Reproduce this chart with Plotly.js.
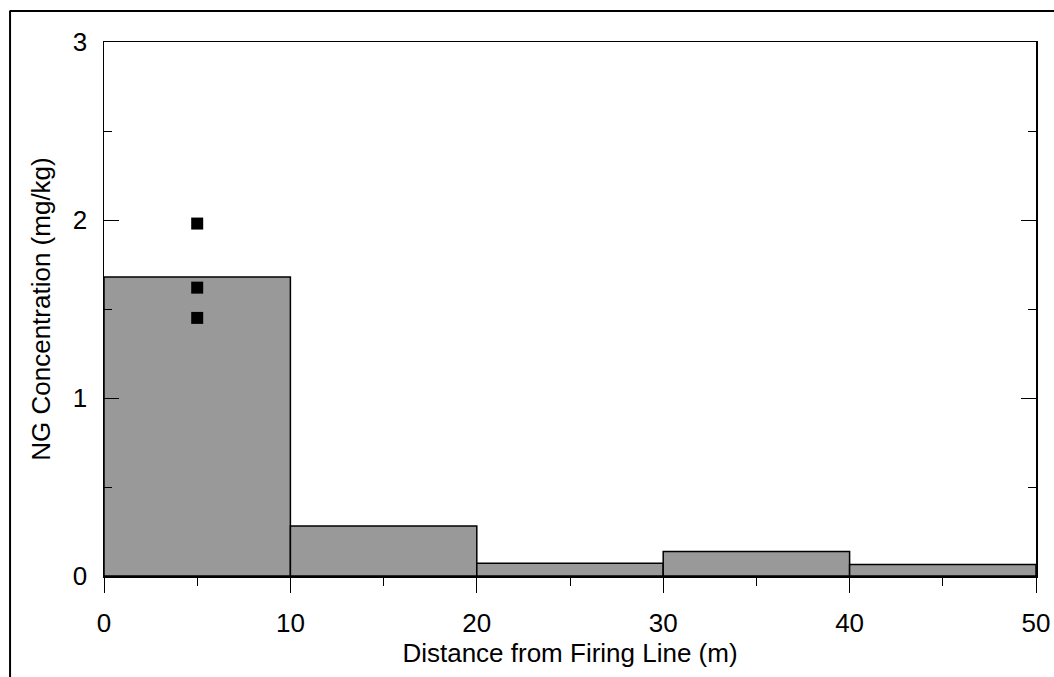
<!DOCTYPE html>
<html>
<head>
<meta charset="utf-8">
<script src="https://cdn.plot.ly/plotly-3.0.1.min.js"></script>
<style>
html,body{margin:0;padding:0;background:#fff;}
#chart{width:1054px;height:677px;}
</style>
</head>
<body>
<div id="chart"></div>
<script>
// Data
const binCenters = [5, 15, 25, 35, 45];
const binMeans = [1.68, 0.281, 0.071, 0.137, 0.064];
const sampleX = [5, 5, 5];
const sampleY = [1.98, 1.62, 1.45];
const xTicks = [0, 10, 20, 30, 40, 50];
const yTicks = [0, 1, 2, 3];

const font = {family: 'Liberation Sans, Arial, sans-serif', size: 26, color: '#000'};
const titleFont = {family: 'Liberation Sans, Arial, sans-serif', size: 26, color: '#000'};

const traces = [
  {
    type: 'bar',
    x: binCenters,
    y: binMeans,
    width: 10,
    marker: {color: '#999999', line: {color: '#000', width: 1.5}},
    hoverinfo: 'skip',
    showlegend: false
  },
  {
    type: 'scatter',
    mode: 'markers',
    x: sampleX,
    y: sampleY,
    marker: {symbol: 'square', size: 12, color: '#000'},
    showlegend: false
  }
];

const layout = {
  width: 1054,
  height: 677,
  margin: {l: 104, r: 18, t: 42, b: 101},
  paper_bgcolor: '#fff',
  plot_bgcolor: '#fff',
  font: font,
  bargap: 0,
  xaxis: {
    range: [0, 50],
    tickvals: xTicks,
    ticktext: xTicks.map(String),
    ticks: 'outside',
    ticklen: 15,
    tickwidth: 1,
    tickcolor: '#000',
    ticklabelstandoff: 8,
    minor: {dtick: 5, ticks: 'outside', ticklen: 8, tickwidth: 1, tickcolor: '#000'},
    showline: true,
    linecolor: '#000',
    linewidth: 1.5,
    mirror: true,
    showgrid: false,
    zeroline: false,
    tickfont: font,
    title: {text: 'Distance from Firing Line (m)', font: titleFont, standoff: 0}
  },
  yaxis: {
    range: [0, 3],
    tickvals: yTicks,
    ticktext: yTicks.map(String),
    ticks: 'inside',
    ticklen: 15,
    tickwidth: 1,
    tickcolor: '#000',
    ticklabelstandoff: 10,
    minor: {dtick: 0.5, ticks: 'inside', ticklen: 8, tickwidth: 1, tickcolor: '#000'},
    showline: true,
    linecolor: '#000',
    linewidth: 1.5,
    mirror: 'ticks',
    showgrid: false,
    zeroline: false,
    tickfont: font,
    title: {text: 'NG Concentration (mg/kg)', font: titleFont, standoff: 14}
  },
  shapes: [
    {type: 'line', xref: 'paper', yref: 'paper', x0: -0.1008, x1: -0.1008, y0: -0.3, y1: 1.0590,
     line: {color: '#000', width: 2}},
    {type: 'line', xref: 'paper', yref: 'paper', x0: -0.1008, x1: 1.1, y0: 1.0581, y1: 1.0581,
     line: {color: '#000', width: 2}}
  ]
};

Plotly.newPlot('chart', traces, layout, {displayModeBar: false, staticPlot: true});
</script>
</body>
</html>
